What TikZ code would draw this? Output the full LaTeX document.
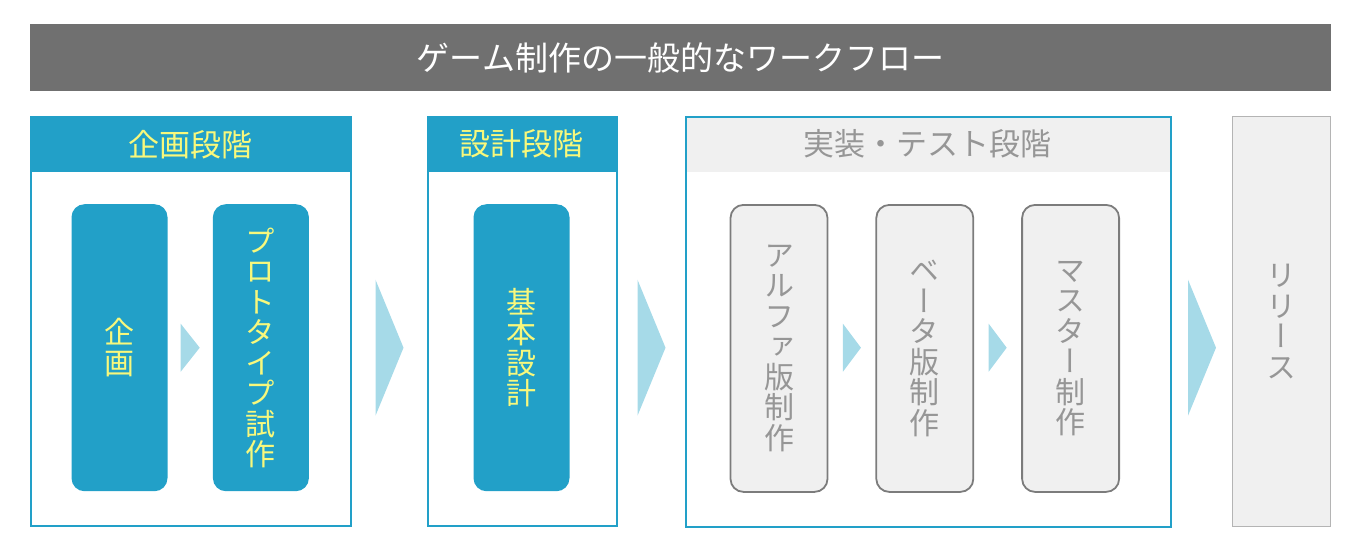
\documentclass[tikz,border=0pt]{standalone}
\usepackage{fontspec}
\setmainfont{Noto Sans CJK JP}
\newfontfamily\vjp[RawFeature=+vert]{Noto Sans CJK JP}
\usetikzlibrary{positioning, calc}

\definecolor{titlegray}{HTML}{707070}
\definecolor{phaseblue}{HTML}{22A0C8}
\definecolor{arrowblue}{HTML}{A6DAE8}
\definecolor{textyellow}{HTML}{F8F87C}
\definecolor{textgray}{HTML}{969696}
\definecolor{paleback}{HTML}{F0F0F0}
\definecolor{stepgray}{HTML}{7C7C7C}
\definecolor{relgray}{HTML}{B4B4B4}

\begin{document}
\begin{tikzpicture}[
  x=1pt, y=1pt,
  titlebar/.style={fill=titlegray, text=white, minimum width=1301pt, minimum height=67pt, inner sep=0pt, font=\fontsize{33}{33}\selectfont},
  phasehead/.style={fill=phaseblue, text=textyellow, minimum height=56pt, inner sep=0pt, anchor=north west, font=\fontsize{31}{31}\selectfont},
  grayhead/.style={phasehead, fill=paleback, text=textgray},
  phaseframe/.style={draw=phaseblue, line width=2pt, minimum height=409pt, inner sep=0pt, anchor=north west},
  stepbox/.style={fill=phaseblue, text=textyellow, rounded corners=13pt, minimum width=96pt, minimum height=287pt, inner sep=0pt, anchor=north, align=center, font=\vjp\fontsize{30}{30.5}\selectfont},
  graystep/.style={stepbox, fill=paleback, draw=stepgray, line width=1.8pt, minimum width=97pt, text=textgray},
  relbox/.style={fill=paleback, draw=relgray, line width=1pt, minimum width=98pt, minimum height=410pt, inner sep=0pt, anchor=north west, align=center, text=textgray, font=\vjp\fontsize{30}{30.5}\selectfont},
  chevron/.style={fill=arrowblue}
]
\useasboundingbox (0,0) rectangle (1358,-550);

% Title
\node[titlebar] (title) at (680.5,-57.5) {ゲーム制作の一般的なワークフロー};

% Phase 1: planning
\node[phasehead, minimum width=320pt] (h1) at (30,-116) {企画段階};
\node[phaseframe, minimum width=320pt] (s1) at (30,-116) {};
\node[stepbox] (plan)  at (119.5,-204) {企\\画};
\node[stepbox] (proto) [right=45pt of plan] {プ\\ロ\\ト\\タ\\イ\\プ\\試\\作};

% Phase 2: design
\node[phasehead, minimum width=189pt] (h2) at (427,-116) {設計段階};
\node[phaseframe, minimum width=189pt] (s2) at (427,-116) {};
\node[stepbox] (basic) at (521.5,-204) {基\\本\\設\\計};

% Phase 3: implementation & test
\node[grayhead, minimum width=485pt] (h3) at (685,-116) {実装・テスト段階};
\node[phaseframe, minimum width=485pt, minimum height=410pt] (s3) at (685,-116) {};
\node[graystep] (alpha)  at (779,-204) {ア\\ル\\フ\\ァ\\版\\制\\作};
\node[graystep] (beta)   [right=47pt of alpha] {ベ\\ー\\タ\\版\\制\\作};
\node[graystep] (master) [right=47pt of beta] {マ\\ス\\タ\\ー\\制\\作};

% Release
\node[relbox] (rel) at (1232,-116) {リ\\リ\\ー\\ス};

% Chevrons between steps and phases
\foreach \a/\b/\w/\h in {plan/proto/9.5/24, alpha/beta/9/24, beta/master/9/24,
                         s1/s2/14/68, s2/s3/14/68, s3/rel/14/68} {
  \coordinate (m0) at ($(\a.east)!0.5!(\b.west)$);
  \coordinate (m) at (m0 |- plan.center);
  \fill[chevron] ($(m)+(-\w,\h)$) -- ($(m)+(\w,0)$) -- ($(m)+(-\w,-\h)$) -- cycle;
}
\end{tikzpicture}
\end{document}
